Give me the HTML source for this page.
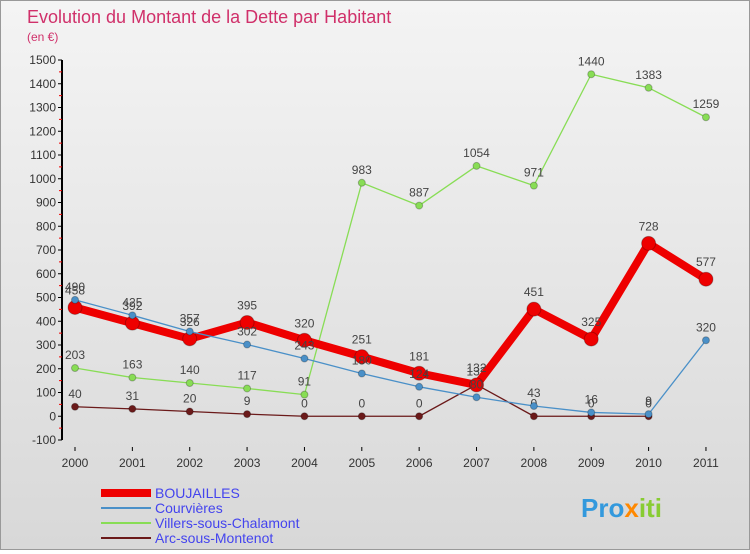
<!DOCTYPE html>
<html><head><meta charset="utf-8"><style>
body{margin:0;width:750px;height:550px;overflow:hidden;font-family:"Liberation Sans",sans-serif}
#wrap{position:relative;width:748px;height:548px;border:1px solid #999;background:linear-gradient(#f4f4f4,#d8d8d8);}
</style></head><body>
<div id="wrap">
<svg id="svg" width="748" height="548" xmlns="http://www.w3.org/2000/svg"></svg>
</div>
<script>
const years=[2000,2001,2002,2003,2004,2005,2006,2007,2008,2009,2010,2011];
const yTicks=[-100,0,100,200,300,400,500,600,700,800,900,1000,1100,1200,1300,1400,1500];
const boujailles=[458,392,326,395,320,251,181,132,451,325,728,577];
const courvieres=[490,425,357,302,243,180,124,80,43,16,9,320];
const villers=[203,163,140,117,91,983,887,1054,971,1440,1383,1259];
const arc=[40,31,20,9,0,0,0,133,0,0,0,null];
const NS="http://www.w3.org/2000/svg";
const svg=document.getElementById('svg');
function X(i){return 74+i*57.36;}
function Y(v){return 415.25-v*0.2375;}
function el(t,a,p){const e=document.createElementNS(NS,t);for(const k in a)e.setAttribute(k,a[k]);(p||svg).appendChild(e);return e;}
function txt(x,y,s,a){const e=el('text',Object.assign({x:x,y:y},a));e.textContent=s;return e;}
const t1=txt(26,22,'Evolution du Montant de la Dette par Habitant',{fill:'#d0306a','font-size':18});

const t2=txt(26,40,'(en €)',{fill:'#d0306a','font-size':12});

const ax=el('g',{});
el('line',{x1:61,y1:Y(1500),x2:61,y2:Y(-100),stroke:'#000','stroke-width':2},ax);
yTicks.forEach(v=>{el('line',{x1:57,x2:61,y1:Y(v),y2:Y(v),stroke:'#000'},ax);
 if(v<1500)el('line',{x1:58,x2:61,y1:Y(v+50),y2:Y(v+50),stroke:'#e00'},ax);
 const t=txt(55,Y(v)+4,String(v),{'text-anchor':'end','font-size':12,fill:'#333'},ax);});
const xa=el('g',{});
years.forEach((y,i)=>{el('line',{x1:X(i),x2:X(i),y1:446,y2:450,stroke:'#000'},xa);
 const t=txt(X(i),466,String(y),{'text-anchor':'middle','font-size':12,fill:'#333'},xa);});
function series(data,color,w,r,name,labelDy){
 const g=el('g',{});
 let d='';data.forEach((v,i)=>{if(v===null)return;d+=(d?'L':'M')+X(i)+','+Y(v);});
 el('path',{d:d,fill:'none',stroke:color,'stroke-width':w,'stroke-linejoin':'round'},g);
 data.forEach((v,i)=>{if(v===null)return;
  const c=el('circle',{cx:X(i),cy:Y(v),r:r,fill:color,stroke:'rgba(0,0,0,0.25)'},g);
  
  const t=txt(X(i),Y(v)-labelDy,String(v),{'text-anchor':'middle','font-size':12,fill:'#444'},g);
  });
}
series(villers,'#88dd55',1.3,3.5,'series-villers',9);
series(arc,'#6b1a1a',1.3,3.5,'series-arc',9);
series(boujailles,'#ee0000',8,7,'series-boujailles',13);
series(courvieres,'#4a90c8',1.3,3.5,'series-courvieres',9);
const lg=el('g',{});
[['BOUJAILLES','#ee0000',8],['Courvières','#4a90c8',2],['Villers-sous-Chalamont','#88dd55',2],['Arc-sous-Montenot','#6b1a1a',2]].forEach((s,i)=>{
 const y=492+i*15;
 el('line',{x1:100,x2:150,y1:y,y2:y,stroke:s[1],'stroke-width':s[2]},lg);
 const t=txt(154,y+5,s[0],{'font-size':14,fill:'#4444ee'},lg);});
const lo=txt(580,516,'Pro',{'font-size':26,'font-weight':'bold',fill:'#3399dd'});

const tsp=document.createElementNS(NS,'tspan');tsp.setAttribute('fill','#ff8800');tsp.textContent='x';lo.appendChild(tsp);
const tsp2=document.createElementNS(NS,'tspan');tsp2.setAttribute('fill','#88cc33');tsp2.textContent='iti';lo.appendChild(tsp2);
</script>
</body></html>
